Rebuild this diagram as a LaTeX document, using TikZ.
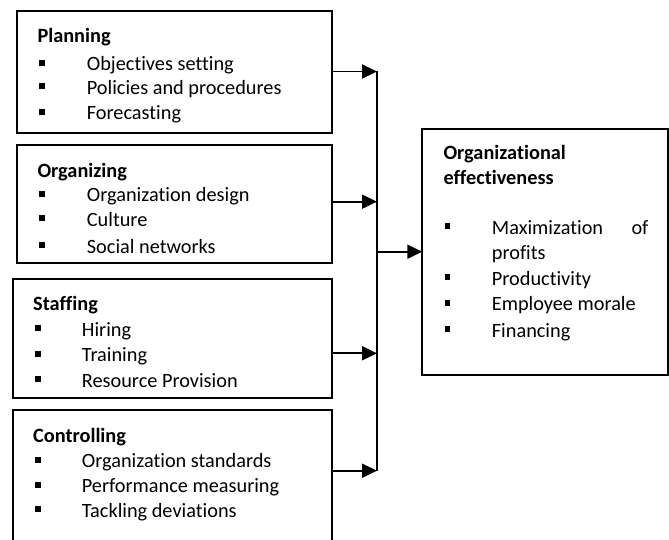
\documentclass[tikz,border=0pt]{standalone}
\usepackage{fontspec}
\setmainfont[Ligatures=NoCommon]{Carlito}
\usetikzlibrary{arrows.meta}
\begin{document}
\begin{tikzpicture}[x=1pt,y=-1pt,
  font=\fontsize{20.3}{24}\selectfont,
  box/.style={draw=black, line width=1.7pt, rectangle, inner sep=0pt, outer sep=0pt, anchor=north west},
  head/.style={anchor=base west, inner sep=0pt, font=\fontsize{20.3}{24}\selectfont\bfseries},
  item/.style={anchor=base west, inner sep=0pt},
  bul/.style={fill=black, rectangle, minimum size=5.8pt, inner sep=0pt},
  link/.style={line width=1.9pt, -{Triangle[length=15pt,width=14pt]}},
  bus/.style={line width=1.9pt}]
\useasboundingbox (0,0) rectangle (669,540);
\clip (0,0) rectangle (669,540);

% input boxes
\node[box, minimum width=315pt, minimum height=122.3pt] (plan) at (17,11) {};
\node[box, minimum width=315pt, minimum height=118.3pt] (org)  at (17,145) {};
\node[box, minimum width=319.3pt, minimum height=119pt] (staff) at (12.7,279.3) {};
\node[box, minimum width=319.3pt, minimum height=150pt] (ctrl) at (12.7,410) {};

% output box
\node[box, minimum width=246pt, minimum height=245.7pt] (eff) at (422.3,129.3) {};

% Planning
\node[head] (planH) at (37.3,42.7) {Planning};
\node[bul] (planB1) at (42.2,62.7) {};
\node[item] (planT1) at (86.7,70.7) {Objectives setting};
\node[bul] (planB2) at (42.2,86.3) {};
\node[item] (planT2) at (86.7,94.3) {Policies and procedures};
\node[bul] (planB3) at (42.2,112) {};
\node[item] (planT3) at (86.7,120) {Forecasting};

% Organizing
\node[head] (orgH) at (37.3,177.7) {Organizing};
\node[bul] (orgB1) at (42.2,193.7) {};
\node[item] (orgT1) at (86.7,201.7) {Organization design};
\node[bul] (orgB2) at (42.2,218) {};
\node[item] (orgT2) at (86.7,226) {Culture};
\node[bul] (orgB3) at (42.2,245) {};
\node[item] (orgT3) at (86.7,253) {Social networks};

% Staffing
\node[head] (staffH) at (33,310) {Staffing};
\node[bul] (staffB1) at (37.9,328) {};
\node[item] (staffT1) at (81.7,336) {Hiring};
\node[bul] (staffB2) at (37.9,353.7) {};
\node[item] (staffT2) at (81.7,361.7) {Training};
\node[bul] (staffB3) at (37.9,379.3) {};
\node[item] (staffT3) at (81.7,387.3) {Resource Provision};

% Controlling
\node[head] (ctrlH) at (33,442.3) {Controlling};
\node[bul] (ctrlB1) at (37.9,459.7) {};
\node[item] (ctrlT1) at (81.7,467.7) {Organization standards};
\node[bul] (ctrlB2) at (37.9,484.7) {};
\node[item] (ctrlT2) at (81.7,492.7) {Performance measuring};
\node[bul] (ctrlB3) at (37.9,509.3) {};
\node[item] (ctrlT3) at (81.7,517.3) {Tackling deviations};

% Organizational effectiveness
\node[head] (effH1) at (443.3,160) {Organizational};
\node[head] (effH2) at (443.3,185) {effectiveness};
\node[bul] (effB1) at (447.5,226.3) {};
\node[item] (effT1) at (491.7,234) {\makebox[156.6pt][l]{Maximization\hfill of}};
\node[item] (effT1b) at (491.7,259.3) {profits};
\node[bul] (effB2) at (447.5,277) {};
\node[item] (effT2) at (491.7,285) {Productivity};
\node[bul] (effB3) at (447.5,302.7) {};
\node[item] (effT3) at (491.7,310.7) {Employee morale};
\node[bul] (effB4) at (447.5,329.3) {};
\node[item] (effT4) at (491.7,337.3) {Financing};

% collecting bus and arrows
\coordinate (j1) at (377,71.5);
\coordinate (j2) at (377,201.7);
\coordinate (j3) at (377,353.3);
\coordinate (j4) at (377,470.7);
\coordinate (jo) at (377,251.7);

\draw[link] (plan.east |- j1) -- (j1);
\draw[link] (org.east |- j2) -- (j2);
\draw[link] (staff.east |- j3) -- (j3);
\draw[link] (ctrl.east |- j4) -- (j4);
\draw[bus] (j1) -- (j4);
\draw[link] (jo) -- (eff.west |- jo);
\end{tikzpicture}
\end{document}
